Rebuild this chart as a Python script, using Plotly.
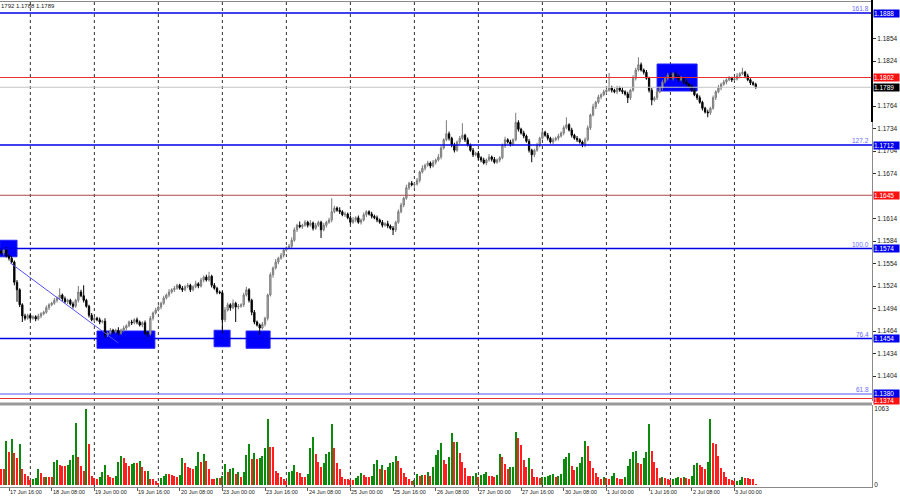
import pandas as pd
import plotly.graph_objects as go

# ---------------- data (EURUSD H1) ----------------
first_open = 1.1570
closes = [
    1.1568,1.1572,1.1564,1.1561,1.1556,1.1529,1.1519,1.1499,1.1484,1.1481,
    1.1485,1.1481,1.1483,1.1480,1.1484,1.1487,1.1489,1.1495,1.1499,1.1501,
    1.1505,1.1508,1.1512,1.1507,1.1503,1.1505,1.1500,1.1497,1.1505,1.1516,
    1.1511,1.1505,1.1497,1.1485,1.1479,1.1481,1.1479,1.1476,1.1477,1.1459,
    1.1461,1.1465,1.1463,1.1465,1.1461,1.1465,1.1468,1.1471,1.1476,1.1475,
    1.1479,1.1476,1.1472,1.1475,1.1461,1.1460,1.1481,1.1488,1.1492,1.1496,
    1.1501,1.1508,1.1512,1.1516,1.1519,1.1521,1.1525,1.1521,1.1519,1.1523,
    1.1525,1.1519,1.1523,1.1527,1.1524,1.1532,1.1536,1.1532,1.1537,1.1525,
    1.1521,1.1516,1.1515,1.1479,1.1492,1.1499,1.1495,1.1501,1.1496,1.1497,
    1.1499,1.1512,1.1519,1.1505,1.1489,1.1476,1.1472,1.1468,1.1473,1.1481,
    1.1512,1.1539,1.1548,1.1556,1.1561,1.1565,1.1572,1.1575,1.1577,1.1585,
    1.1599,1.1605,1.1603,1.1605,1.1609,1.1605,1.1608,1.1601,1.1605,1.1609,
    1.1599,1.1605,1.1609,1.1612,1.1623,1.1628,1.1625,1.1623,1.1619,1.1620,
    1.1615,1.1609,1.1612,1.1615,1.1609,1.1612,1.1619,1.1623,1.1620,1.1617,
    1.1615,1.1612,1.1609,1.1605,1.1607,1.1604,1.1601,1.1599,1.1609,1.1623,
    1.1632,1.1641,1.1655,1.1661,1.1659,1.1660,1.1665,1.1676,1.1681,1.1685,
    1.1688,1.1684,1.1689,1.1692,1.1696,1.1708,1.1719,1.1727,1.1721,1.1712,
    1.1705,1.1716,1.1721,1.1725,1.1719,1.1712,1.1705,1.1699,1.1701,1.1695,
    1.1692,1.1688,1.1692,1.1696,1.1693,1.1689,1.1692,1.1695,1.1711,1.1719,
    1.1716,1.1713,1.1719,1.1742,1.1733,1.1728,1.1724,1.1717,1.1705,1.1699,
    1.1705,1.1712,1.1721,1.1729,1.1725,1.1721,1.1716,1.1719,1.1721,1.1724,
    1.1728,1.1735,1.1739,1.1732,1.1725,1.1721,1.1719,1.1716,1.1712,1.1719,
    1.1735,1.1752,1.1763,1.1769,1.1776,1.1779,1.1783,1.1785,1.1788,1.1785,
    1.1783,1.1788,1.1785,1.1783,1.1780,1.1775,1.1785,1.1801,1.1812,1.1819,
    1.1812,1.1809,1.1801,1.1785,1.1772,1.1775,1.1783,1.1788,1.1796,1.1801,
    1.1805,1.1801,1.1807,1.1804,1.1799,1.1801,1.1796,1.1793,1.1791,1.1785,
    1.1779,1.1775,1.1769,1.1761,1.1756,1.1755,1.1761,1.1775,1.1783,1.1788,
    1.1793,1.1796,1.1799,1.1801,1.1799,1.1800,1.1804,1.1807,1.1809,1.1804,
    1.1799,1.1795,1.1793,1.1789,
]
# wick lengths in pips above the body top / below the body bottom
upper_wick_pips = [
    3,2,4,2,3,2,3,2,2,3, 2,3,2,2,3,2,2,3,2,2, 3,2,9,2,3,2,2,3,2,8,
    3,14,2,2,3,2,2,3,2,4, 2,3,2,2,4,2,3,2,2,3, 2,3,2,2,3,2,3,2,3,2,
    2,3,2,4,2,3,2,2,3,2, 3,2,2,4,2,3,2,3,6,2, 3,2,2,2,4,3,2,5,2,3,
    2,3,4,2,2,3,2,2,3,2, 2,3,2,4,2,3,2,2,3,4, 3,2,5,2,3,2,4,2,3,2,
    2,3,2,3,18,3,2,4,2,3, 2,3,4,2,3,2,3,2,2,3, 2,3,2,3,2,4,2,3,2,3,
    3,2,4,2,3,2,3,2,4,2, 3,2,3,2,4,3,2,18,3,2, 3,2,3,16,2,3,2,3,2,3,
    2,3,2,4,2,3,2,2,3,4, 2,3,2,13,3,2,3,2,3,2, 2,3,2,4,2,3,2,3,2,3,
    2,3,10,2,3,2,3,2,2,3, 3,2,4,2,3,2,3,2,20,3, 2,3,2,4,2,3,2,4,3,10,
    3,2,3,2,3,2,4,2,3,2, 3,4,2,3,2,3,2,3,2,2, 3,2,3,2,2,3,2,3,2,4,
    2,3,2,3,2,3,4,2,6,2, 3,2,2,2,
]
lower_wick_pips = [
    2,3,2,3,2,4,16,3,8,3, 2,3,2,3,2,3,2,2,3,2, 2,3,2,3,2,3,2,3,2,3,
    2,3,2,3,2,3,2,3,2,4, 3,2,3,2,3,2,2,3,2,3, 2,3,2,3,2,4,2,3,2,2,
    3,2,2,3,2,3,2,2,3,2, 2,3,2,2,3,2,3,2,2,3, 2,3,2,18,3,2,4,2,20,3,
    2,3,2,3,4,3,2,9,2,3, 3,2,4,2,3,2,3,2,2,3, 2,3,2,3,2,3,2,3,2,2,
    11,2,3,2,3,2,2,3,2,3, 2,3,2,3,2,3,2,3,2,3, 2,3,2,3,2,3,2,7,3,2,
    2,3,2,3,2,4,2,3,2,3, 2,3,2,3,2,3,2,2,3,3, 3,2,3,2,3,2,2,3,2,3,
    3,2,3,2,3,2,2,3,2,3, 2,3,2,2,3,2,3,2,3,10, 3,2,3,2,2,3,2,3,2,3,
    2,3,2,2,3,2,3,2,3,3, 2,3,2,3,2,3,2,3,2,3, 2,3,2,3,2,7,3,2,3,2,
    2,3,2,3,7,2,3,2,3,2, 3,2,3,2,3,2,3,2,3,2, 2,3,2,3,2,6,3,2,3,2,
    3,2,3,2,3,2,2,3,2,3, 2,3,2,2,
]
volumes = [
    230,222,618,459,650,445,384,571,225,154,
    126,70,89,92,220,164,108,117,112,108,
    323,346,276,272,270,276,351,417,866,398,
    267,197,1063,571,126,103,89,117,183,281,
    140,117,94,126,323,407,374,314,267,290,
    314,304,342,257,192,195,89,84,61,33,
    98,122,154,150,135,130,117,136,379,304,
    253,243,225,271,459,323,430,342,229,89,
    85,98,92,126,290,187,229,232,154,183,
    117,183,421,571,365,445,365,379,407,519,
    922,538,534,201,164,117,89,56,183,201,
    276,187,164,117,112,154,519,674,435,323,
    248,304,435,459,856,519,314,220,117,89,
    84,70,66,94,131,168,140,117,108,122,
    300,351,220,276,211,257,314,318,407,342,
    234,173,117,89,56,70,154,126,145,140,
    180,126,250,426,491,585,351,300,398,725,
    599,605,445,328,234,126,120,126,164,108,
    140,154,178,126,122,117,140,430,388,290,
    220,248,249,739,660,562,351,253,374,220,
    117,115,94,108,117,126,145,154,117,126,
    154,365,398,445,267,211,257,314,398,618,
    548,342,234,164,108,89,108,98,89,126,
    173,98,89,87,117,267,360,468,477,304,
    290,384,468,852,477,328,234,98,117,98,
    80,70,89,98,117,98,108,94,89,126,
    276,314,276,257,225,323,922,585,580,407,
    234,187,108,89,66,51,61,64,108,98,
    96,84,80,14,
]
tick_labels = ["17 Jun 16:00", "18 Jun 08:00", "19 Jun 00:00", "19 Jun 16:00",
               "20 Jun 08:00", "23 Jun 00:00", "23 Jun 16:00", "24 Jun 08:00",
               "25 Jun 00:00", "25 Jun 16:00", "26 Jun 08:00", "27 Jun 00:00",
               "27 Jun 16:00", "30 Jun 08:00", "1 Jul 00:00", "1 Jul 16:00",
               "2 Jul 08:00", "3 Jul 00:00"]
price_ticks = [1.1854, 1.1824, 1.1764, 1.1734, 1.1704, 1.1674, 1.1614, 1.1584,
               1.1554, 1.1524, 1.1494, 1.1464, 1.1434, 1.1404]
# drawn in this order (later ones on top)
level_prices = [1.1374, 1.1380, 1.1454, 1.1574, 1.1645, 1.1712, 1.1789, 1.1802, 1.1888]
level_fib = ["", "61.8", "76.4", "100.0", "", "127.2", "", "", "161.8"]
volume_max_label = 1063

n = len(closes)
assert len(upper_wick_pips) == n and len(lower_wick_pips) == n and len(volumes) == n, \
    (n, len(upper_wick_pips), len(lower_wick_pips), len(volumes))

times = pd.date_range("2025-06-17 13:00", "2025-07-03 08:00", freq="h")
times = times[times.dayofweek < 5]
assert len(times) == n, len(times)
time_list = list(times)

opens = [first_open] + closes[:-1]
highs = [max(o, c) + w * 0.0001 for o, c, w in zip(opens, closes, upper_wick_pips)]
lows = [min(o, c) - w * 0.0001 for o, c, w in zip(opens, closes, lower_wick_pips)]
idx = list(range(n))
vol_colors = ["#ff1f1f"] + ["#0b8a0b" if volumes[i] > volumes[i - 1] else "#ff1f1f" for i in range(1, n)]
tick_idx = [time_list.index(pd.to_datetime(l + " 2025", format="%d %b %H:%M %Y")) for l in tick_labels]

# ---------------- geometry ----------------
W, H = 900, 500
def fx(px):
    return px / W
def fy(py):
    return 1 - py / H

PLOT_R = 872
x_range = [(0 - 1) / 2.667, (PLOT_R - 1) / 2.667]
p_top, p_bot = 2, 401
price_range = [1.1888 - (p_bot - 13) / 7500, 1.1888 + (13 - p_top) / 7500]
v_top, v_bot = 405, 487
vpp = volume_max_label / (485 - 409)
vol_range = [-(v_bot - 485) * vpp, volume_max_label + (409 - v_top) * vpp]

FONT = "Liberation Sans"

fig = go.Figure()
fig.add_trace(go.Candlestick(
    x=idx, open=opens, high=highs, low=lows, close=closes,
    increasing=dict(line=dict(color="#7a7a7a", width=1), fillcolor="#b8b8b8"),
    decreasing=dict(line=dict(color="#000000", width=1), fillcolor="#000000"),
    whiskerwidth=0, xaxis="x", yaxis="y", showlegend=False, hoverinfo="skip"))
fig.add_trace(go.Bar(x=idx, y=volumes, marker=dict(color=vol_colors, line=dict(width=0)),
                     width=0.75, xaxis="x2", yaxis="y2", showlegend=False, hoverinfo="skip"))

shapes = []
for i, t in enumerate(times):
    if t.hour == 0:
        for xr, yref in (("x", "y domain"), ("x2", "y2 domain")):
            shapes.append(dict(type="line", xref=xr, yref=yref, x0=i, x1=i, y0=0, y1=1,
                               line=dict(color="#303030", width=1, dash="3px,3px"), layer="below"))

line_cols = {1.1888: "#0000e6", 1.1802: "#e83030", 1.1789: "#c4c4c4", 1.1712: "#0000e6",
             1.1645: "#b04848", 1.1574: "#0000e6", 1.1454: "#0000e6", 1.1380: "#8c8cff",
             1.1374: "#e83030"}
line_w = {1.1888: 1.6, 1.1712: 1.3, 1.1574: 1.6, 1.1454: 1.6, 1.1380: 1.3}
box_cols = {1.1888: "#0000ee", 1.1802: "#ff1010", 1.1789: "#000000", 1.1712: "#0000ee",
            1.1645: "#ff1010", 1.1574: "#0000ee", 1.1454: "#0000ee", 1.1380: "#0000ee",
            1.1374: "#ff1010"}
box_shift = {1.1374: -2, 1.1380: 1}
for p in level_prices:
    shapes.append(dict(type="line", xref="paper", yref="y", x0=0, x1=fx(PLOT_R), y0=p, y1=p,
                       line=dict(color=line_cols[p], width=line_w.get(p, 1))))

zones = [(-0.4, 6.0, 1.1563, 1.1585), (36.0, 57.7, 1.1441, 1.1464), (79.9, 85.9, 1.1443, 1.1465),
         (91.9, 100.9, 1.1441, 1.1464), (246.0, 261.0, 1.1784, 1.1820)]
for x0, x1, y0, y1 in zones:
    shapes.append(dict(type="rect", xref="x", yref="y", x0=x0, x1=x1, y0=y0, y1=y1,
                       fillcolor="#0000ff", line=dict(color="#2020ff", width=1), layer="below"))
shapes.append(dict(type="line", xref="x", yref="y", x0=3.4, y0=1.1555, x1=44, y1=1.1448,
                   line=dict(color="#5050ff", width=1)))
shapes.append(dict(type="line", xref="paper", yref="paper", x0=0, x1=fx(PLOT_R), y0=fy(1.5), y1=fy(1.5),
                   line=dict(color="#8a8a8a", width=1)))
shapes.append(dict(type="rect", xref="paper", yref="paper", x0=0, x1=fx(PLOT_R), y0=fy(405.5), y1=fy(402.5),
                   fillcolor="#9a9a9a", line=dict(width=0)))
shapes.append(dict(type="line", xref="paper", yref="paper", x0=fx(PLOT_R), x1=fx(PLOT_R), y0=fy(122), y1=fy(0),
                   line=dict(color="#000000", width=2)))

annotations = []
for p, fib in zip(level_prices, level_fib):
    annotations.append(dict(xref="paper", yref="y", x=fx(PLOT_R + 1), y=p, xanchor="left", yanchor="middle",
                            yshift=box_shift.get(p, 0),
                            text=f"{p:.4f}", showarrow=False, bgcolor=box_cols[p], width=25, height=7,
                            align="left", borderpad=0,
                            font=dict(family=FONT, size=6.5, color="white")))
    if fib:
        annotations.append(dict(xref="paper", yref="y", x=fx(PLOT_R - 2), y=p, xanchor="right",
                                yanchor="bottom", text=fib, showarrow=False, borderpad=0,
                                font=dict(family=FONT, size=6.5, color="#6a6aff")))
for lab, i in zip(tick_labels, tick_idx):
    annotations.append(dict(xref="x2", yref="paper", x=i, y=fy(492), xanchor="left", yanchor="middle",
                            text=lab, showarrow=False, borderpad=0,
                            font=dict(family=FONT, size=5.5, color="#202020")))
annotations.append(dict(xref="paper", yref="paper", x=0, y=fy(6), xanchor="left", yanchor="middle",
                        text="1792 1.1788 1.1789", showarrow=False, borderpad=0,
                        font=dict(family=FONT, size=6, color="#202020")))

fig.update_layout(
    width=W, height=H, margin=dict(l=0, r=0, t=0, b=0, autoexpand=False),
    paper_bgcolor="white", plot_bgcolor="white",
    shapes=shapes, annotations=annotations, bargap=0,
    xaxis=dict(domain=[0, fx(PLOT_R)], range=x_range, showgrid=False, zeroline=False, automargin=False,
               showticklabels=False, rangeslider=dict(visible=False), anchor="y"),
    yaxis=dict(domain=[fy(p_bot), fy(p_top)], range=price_range, side="right", anchor="x",
               showgrid=False, zeroline=False, tickvals=price_ticks, automargin=False,
               ticktext=[f"{v:.4f}" for v in price_ticks], ticks="outside", ticklen=3,
               tickcolor="#303030", showline=True, linecolor="#8a8a8a", linewidth=1,
               tickfont=dict(family=FONT, size=6.5, color="#202020")),
    xaxis2=dict(domain=[0, fx(PLOT_R)], range=x_range, showgrid=False, zeroline=False, automargin=False,
                showticklabels=False, anchor="y2", showline=True, linecolor="#8a8a8a",
                ticks="outside", ticklen=3, tickcolor="#606060", tickvals=tick_idx),
    yaxis2=dict(domain=[fy(v_bot), fy(v_top)], range=vol_range, side="right", anchor="x2",
                showgrid=False, zeroline=False, tickvals=[0, volume_max_label], automargin=False,
                ticktext=["0", str(volume_max_label)], ticks="", showline=True,
                linecolor="#8a8a8a", tickfont=dict(family=FONT, size=6.5, color="#202020")),
)

fig.write_html("out.html", config={"displayModeBar": False},
               post_script="document.body.style.margin='0';document.body.style.padding='0';")
